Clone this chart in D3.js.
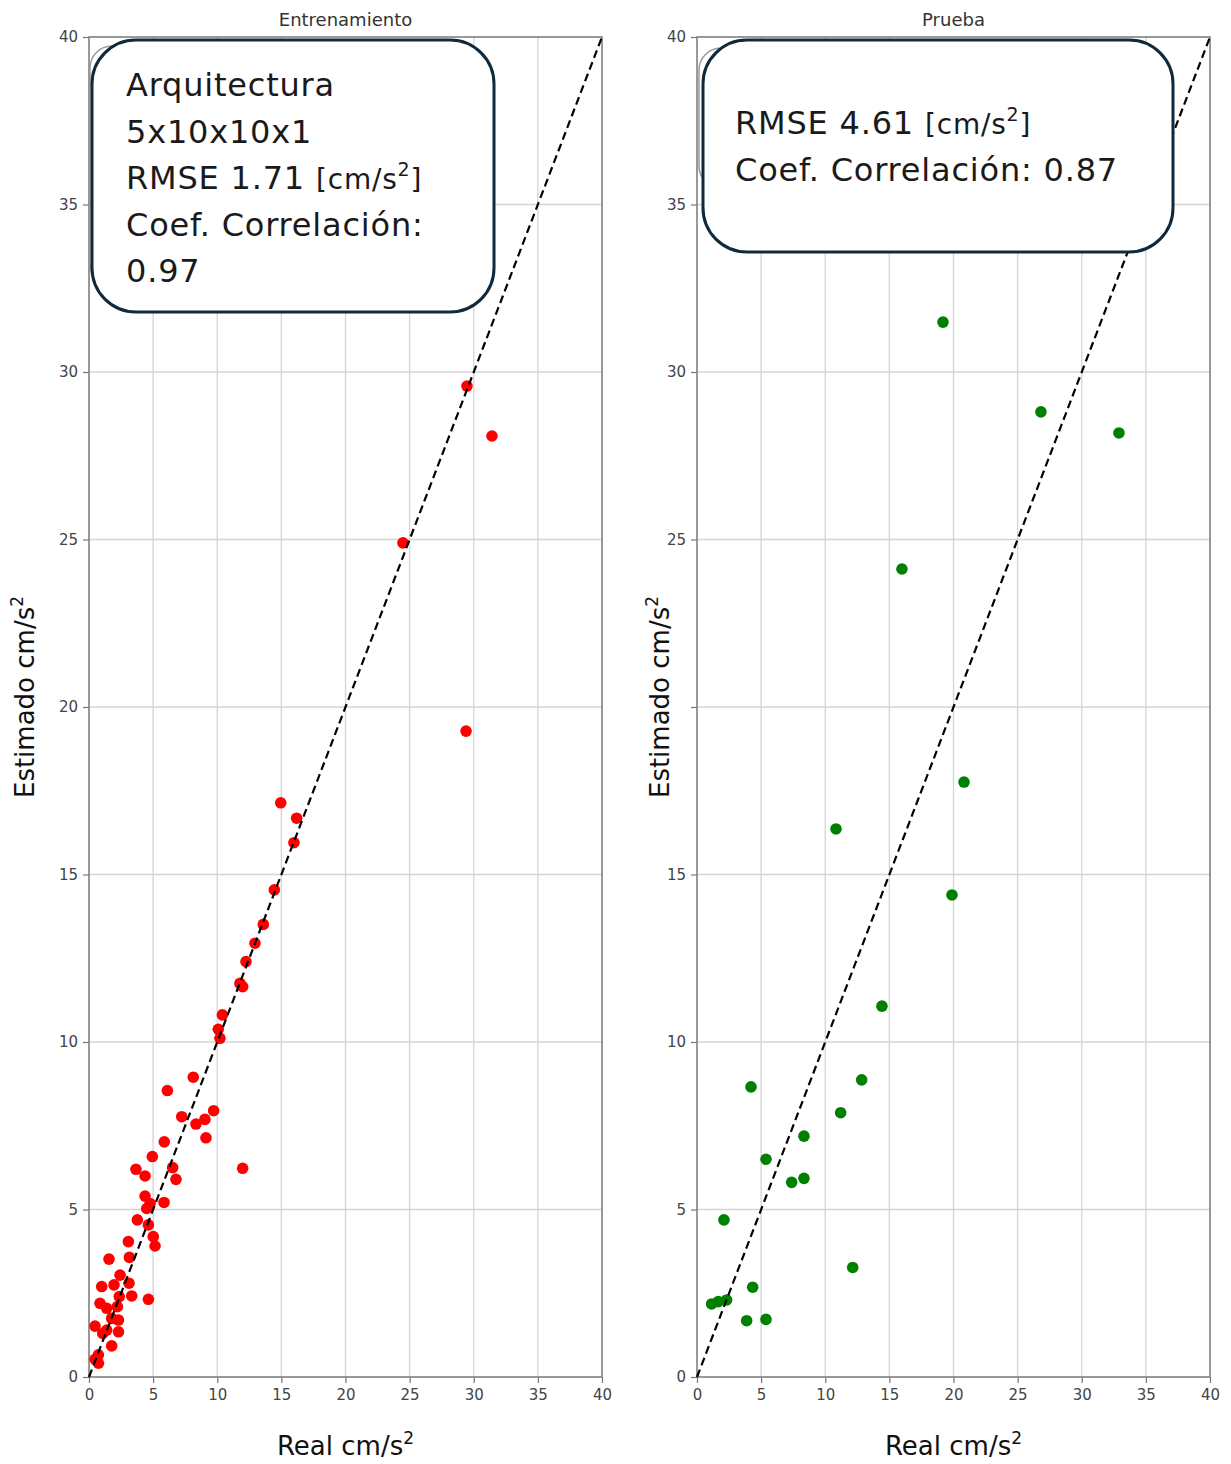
<!DOCTYPE html>
<html>
<head>
<meta charset="utf-8">
<script src="https://cdn.jsdelivr.net/npm/d3@7"></script>
<style>
  html, body { margin: 0; padding: 0; background: #fff; }
  svg { display: block; }
</style>
</head>
<body>
<svg id="chart" width="1231" height="1464"></svg>
<script>
// Axis ticks shared by both panels (cm/s²)
const tickValues = [0, 5, 10, 15, 20, 25, 30, 35, 40];
const tickLabels = ["0", "5", "10", "15", "20", "25", "30", "35", "40"];

// Training set: measured (real) vs network estimate
const trainReal = [29.47, 31.42, 24.48, 29.40, 14.95, 16.19, 15.98, 14.45, 13.59, 12.94, 12.24, 11.77, 11.98, 10.40, 10.08, 10.21,
  8.13, 6.11, 7.23, 8.34, 9.04, 9.72, 9.12, 5.87, 4.94, 3.66, 4.37, 6.52, 6.78, 11.98, 4.37, 4.76, 4.50, 5.85, 3.77, 4.63, 5.01, 5.15,
  3.07, 3.15, 1.56, 2.42, 1.95, 0.99, 3.12, 3.33, 2.36, 4.63, 0.86, 1.38, 2.21, 1.77, 2.30, 0.47, 1.38, 2.30, 1.07, 1.77, 0.73, 0.47, 0.74];
const trainEst = [29.58, 28.09, 24.90, 19.28, 17.14, 16.68, 15.95, 14.54, 13.51, 12.95, 12.40, 11.75, 11.65, 10.81, 10.38, 10.11,
  8.95, 8.55, 7.77, 7.55, 7.69, 7.95, 7.14, 7.02, 6.58, 6.20, 6.00, 6.25, 5.90, 6.23, 5.40, 5.18, 5.03, 5.21, 4.69, 4.54, 4.19, 3.91,
  4.04, 3.57, 3.52, 3.04, 2.75, 2.70, 2.80, 2.42, 2.40, 2.32, 2.20, 2.05, 2.10, 1.75, 1.70, 1.52, 1.40, 1.35, 1.30, 0.93, 0.66, 0.53, 0.41];

// Test set: measured (real) vs network estimate
const testReal = [19.18, 26.82, 32.90, 15.98, 20.82, 10.84, 19.88, 14.42, 12.84, 4.21, 11.20, 8.34, 5.38, 7.38, 8.34, 2.10, 12.14,
  4.34, 1.14, 1.66, 2.31, 3.87, 5.38];
const testEst = [31.49, 28.81, 28.18, 24.12, 17.76, 16.36, 14.39, 11.07, 8.87, 8.66, 7.89, 7.19, 6.50, 5.81, 5.93, 4.69, 3.27,
  2.68, 2.18, 2.25, 2.30, 1.68, 1.72];

// Annotation text per panel
const trainNote = [["Arquitectura"], ["5x10x10x1"], ["RMSE 1.71 ", "[cm/s", "2", "]"], ["Coef. Correlación:"], ["0.97"]];
const testNote = [["RMSE 4.61 ", "[cm/s", "2", "]"], ["Coef. Correlación: 0.87"]];

const panelTitles = ["Entrenamiento", "Prueba"];
const xLabel = "Real cm/s";
const yLabel = "Estimado cm/s";

const svg = d3.select("#chart");
const FONT = "DejaVu Sans, sans-serif";

const panels = [
  { title: panelTitles[0], real: trainReal, est: trainEst, color: "#ff0000", left: 89, ylabX: 25, backing: false,
    note: trainNote, box: { x: 92, y: 40, w: 402, h: 272 }, back: { x: 90, y: 46, w: 360, h: 240 }, textX: 126, firstBase: 96 },
  { title: panelTitles[1], real: testReal, est: testEst, color: "#008000", left: 697, ylabX: 660, backing: true,
    note: testNote, box: { x: 703, y: 40, w: 470, h: 212 }, back: { x: 699, y: 48, w: 380, h: 140 }, textX: 735, firstBase: 134 }
];

const plotW = 513, plotTop = 37, plotH = 1340;

panels.forEach(p => {
  const x = d3.scaleLinear().domain([0, 40]).range([p.left, p.left + plotW]);
  const y = d3.scaleLinear().domain([0, 40]).range([plotTop + plotH, plotTop]);
  const g = svg.append("g");

  // grid
  g.append("g").selectAll("line").data(tickValues.slice(1, -1)).join("line")
    .attr("x1", d => x(d)).attr("x2", d => x(d)).attr("y1", plotTop).attr("y2", plotTop + plotH)
    .attr("stroke", "#d4d4d4").attr("stroke-width", 1.3);
  g.append("g").selectAll("line").data(tickValues.slice(1, -1)).join("line")
    .attr("y1", d => y(d)).attr("y2", d => y(d)).attr("x1", p.left).attr("x2", p.left + plotW)
    .attr("stroke", "#d4d4d4").attr("stroke-width", 1.3);

  // axes
  const xAxis = d3.axisBottom(x).tickValues(tickValues).tickFormat((d, i) => tickLabels[i]).tickSize(6).tickPadding(6);
  const yAxis = d3.axisLeft(y).tickValues(tickValues).tickFormat((d, i) => tickLabels[i]).tickSize(6).tickPadding(5);
  [g.append("g").attr("transform", `translate(0,${plotTop + plotH})`).call(xAxis),
   g.append("g").attr("transform", `translate(${p.left},0)`).call(yAxis)].forEach(ax => {
    ax.select(".domain").remove();
    ax.selectAll(".tick line").attr("stroke", "#777").attr("stroke-width", 1.2);
    ax.selectAll(".tick text").attr("fill", "#444").attr("font-family", FONT).attr("font-size", 15);
  });

  // frame
  g.append("rect").attr("x", p.left).attr("y", plotTop).attr("width", plotW).attr("height", plotH)
    .attr("fill", "none").attr("stroke", "#808080").attr("stroke-width", 1.6);

  // points
  g.append("g").selectAll("circle").data(p.real.map((r, i) => [r, p.est[i]])).join("circle")
    .attr("cx", d => x(d[0])).attr("cy", d => y(d[1])).attr("r", 5.8).attr("fill", p.color);

  // identity line
  g.append("line").attr("x1", x(0)).attr("y1", y(0)).attr("x2", x(40)).attr("y2", y(40))
    .attr("stroke", "#000").attr("stroke-width", 2.2).attr("stroke-dasharray", "8,4.5");

  // title
  g.append("text").attr("x", p.left + plotW / 2).attr("y", 26).attr("text-anchor", "middle")
    .attr("font-family", FONT).attr("font-size", 18).attr("fill", "#333").text(p.title);

  // x label
  const xl = g.append("text").attr("x", p.left + plotW / 2).attr("y", 1455).attr("text-anchor", "middle")
    .attr("font-family", FONT).attr("font-size", 26).attr("fill", "#111");
  xl.append("tspan").text(xLabel);
  xl.append("tspan").attr("font-size", 17).attr("dy", -11).text("2");

  // y label
  const yg = g.append("g").attr("transform", `translate(${p.ylabX},697) rotate(-90)`);
  if (p.backing) {
    yg.append("rect").attr("x", -98).attr("y", -26).attr("width", 216).attr("height", 54).attr("fill", "#fff");
  }
  const yl = yg.append("text").attr("x", 0).attr("y", 9).attr("text-anchor", "middle")
    .attr("font-family", FONT).attr("font-size", 26).attr("fill", "#111");
  yl.append("tspan").text(yLabel);
  yl.append("tspan").attr("font-size", 17).attr("dy", -11).text("2");

  // annotation box (with the faint outline of an earlier box underneath)
  g.append("rect").attr("x", p.back.x).attr("y", p.back.y).attr("width", p.back.w).attr("height", p.back.h)
    .attr("rx", 22).attr("fill", "none").attr("stroke", "#9a9a9a").attr("stroke-width", 1.5);
  g.append("rect").attr("x", p.box.x).attr("y", p.box.y).attr("width", p.box.w).attr("height", p.box.h)
    .attr("rx", 44).attr("fill", "#fff").attr("stroke", "#0e2a3c").attr("stroke-width", 3);

  p.note.forEach((parts, i) => {
    const t = g.append("text").attr("x", p.textX).attr("y", p.firstBase + i * 46.5)
      .attr("font-family", FONT).attr("font-size", 32).attr("letter-spacing", 0.8).attr("fill", "#1a1a1a");
    if (parts.length === 1) {
      t.text(parts[0]);
    } else {
      t.append("tspan").text(parts[0]);
      t.append("tspan").attr("font-size", 28).text(parts[1]);
      t.append("tspan").attr("font-size", 19).attr("dy", -13).text(parts[2]);
      t.append("tspan").attr("font-size", 28).attr("dy", 13).text(parts[3]);
    }
  });
});
</script>
</body>
</html>
